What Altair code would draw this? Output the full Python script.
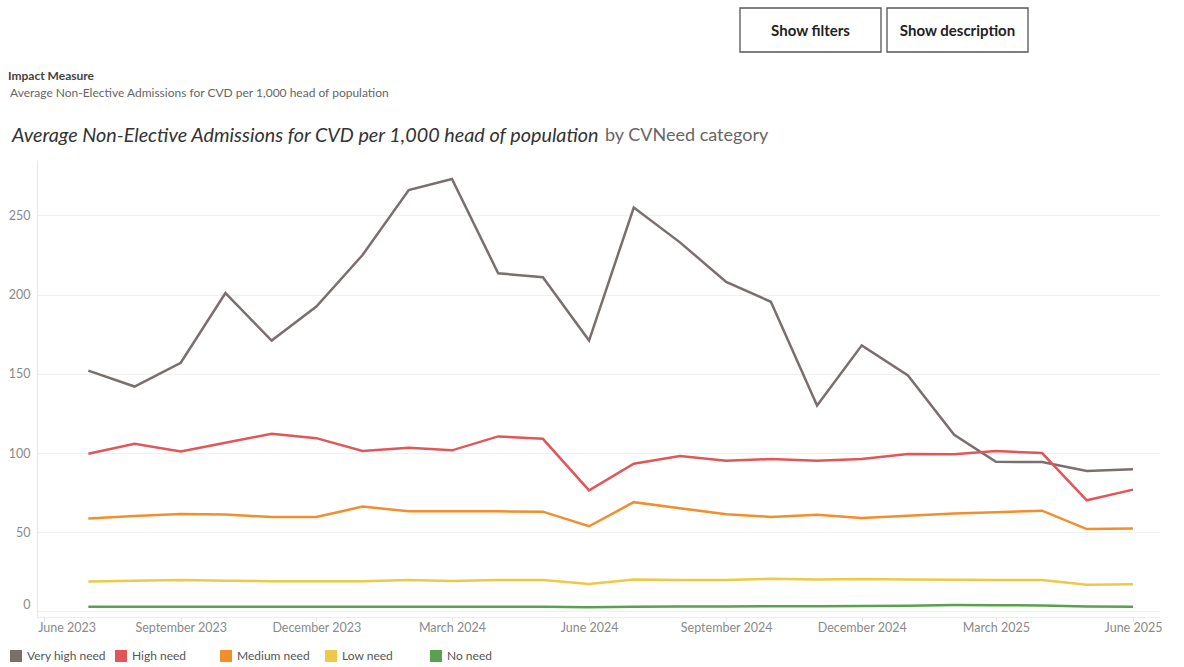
import altair as alt
import pandas as pd

FONT = "Lato"

months = [
    "2023-07-01", "2023-08-01", "2023-09-01", "2023-10-01", "2023-11-01", "2023-12-01",
    "2024-01-01", "2024-02-01", "2024-03-01", "2024-04-01", "2024-05-01", "2024-06-01",
    "2024-07-01", "2024-08-01", "2024-09-01", "2024-10-01", "2024-11-01", "2024-12-01",
    "2025-01-01", "2025-02-01", "2025-03-01", "2025-04-01", "2025-05-01", "2025-06-01",
]
very_high = [152, 142, 157, 201, 171, 192.5, 225, 266, 273, 213.5, 211, 171,
             255, 233, 208, 195.5, 130, 168, 149, 111.5, 94.5, 94.3, 88.7, 89.8]
high = [99.6, 105.9, 101, 106.5, 112.2, 109.4, 101.3, 103.4, 101.7, 110.5, 109, 76.5,
        93.3, 98.1, 95.2, 96.2, 95.2, 96.2, 99.4, 99.2, 101.3, 100, 70.2, 76.9]
medium = [58.7, 60.2, 61.6, 61.2, 59.6, 59.6, 66.2, 63.2, 63.3, 63.2, 63.0, 53.8,
          69.0, 65.2, 61.4, 59.7, 61.0, 59.0, 60.4, 61.8, 62.6, 63.6, 52.0, 52.4]
low = [18.9, 19.4, 19.8, 19.4, 19.1, 19.1, 19.1, 19.8, 19.3, 19.8, 19.8, 17.3,
       20.2, 19.9, 19.9, 20.6, 20.1, 20.5, 20.2, 20.0, 19.8, 19.8, 16.8, 17.1]
no_need = [2.9, 3.0, 3.0, 2.9, 2.9, 2.9, 2.9, 2.9, 3.0, 3.0, 3.0, 2.6,
           3.0, 3.1, 3.2, 3.3, 3.3, 3.5, 3.6, 4.0, 3.9, 3.8, 3.1, 3.0]

categories = ["Very high need", "High need", "Medium need", "Low need", "No need"]
colors = ["#79706e", "#e15759", "#f28e2b", "#edc948", "#59a14f"]
series = [very_high, high, medium, low, no_need]

tick_dates = [(2023, 6), (2023, 9), (2023, 12), (2024, 3), (2024, 6),
              (2024, 9), (2024, 12), (2025, 3), (2025, 6)]
y_ticks = [0, 50, 100, 150, 200, 250]

rows = []
for cat, vals in zip(categories, series):
    for m, v in zip(months, vals):
        rows.append({"month": m, "value": v, "category": cat})
df = pd.DataFrame(rows)

# layout (plot area origin in page pixels)
L, T, W, H = 37, 160, 1123, 457

x_scale = alt.Scale(
    type="utc",
    domain=[alt.DateTime(year=2023, month=5, date=27, hours=13, utc=True),
            alt.DateTime(year=2025, month=6, date=19, hours=3, utc=True)],
)
y_scale = alt.Scale(domain=[-3.5, 285], nice=False, zero=False)

x_axis = alt.Axis(
    title=None,
    values=[alt.DateTime(year=y, month=m, date=1, utc=True) for y, m in tick_dates],
    labelExpr="utcFormat(datum.value, '%B %Y')",
    labelFlush=10, labelFlushOffset=6,
    grid=False, ticks=True, tickSize=4, tickColor="#e6e6e6",
    domain=True, domainColor="#ececec",
    labelFont=FONT, labelFontSize=12.5, labelColor="#8a8a8a", labelPadding=0,
)
y_axis = alt.Axis(
    title=None, values=y_ticks, grid=True, gridColor="#f0f0f0",
    ticks=False, domain=True, domainColor="#e6e6e6",
    labelFont=FONT, labelFontSize=12.5, labelColor="#8a8a8a", labelPadding=7,
    labelBaseline={"condition": {"test": "datum.value === 0", "value": "bottom"}, "value": "middle"},
)

color_scale = alt.Scale(domain=categories, range=colors)

lines = alt.Chart(df).mark_line(strokeWidth=2.5).encode(
    x=alt.X("month:T", scale=x_scale, axis=x_axis),
    y=alt.Y("value:Q", scale=y_scale, axis=y_axis),
    color=alt.Color("category:N", scale=color_scale, legend=None),
)

legend_layer = alt.Chart(df).mark_square(opacity=0).encode(
    x=alt.X("month:T"),
    y=alt.Y("value:Q"),
    color=alt.Color(
        "category:N", scale=color_scale,
        legend=alt.Legend(
            title=None, orient="none", legendX=10 - L, legendY=650 - T,
            direction="horizontal", columns=5, gridAlign="all", columnPadding=9,
            symbolType="square", symbolSize=144, symbolStrokeWidth=0, symbolOpacity=1,
            labelFont=FONT, labelFontSize=12, labelColor="#555555", labelOffset=5,
        ),
    ),
)

ONE = alt.Data(values=[{"a": 1}])


def txt(s, x, y, size, color, weight="normal", style="normal", align="left"):
    return alt.Chart(ONE).mark_text(
        text=s, font=FONT, fontSize=size, color=color, fontWeight=weight,
        fontStyle=style, align=align, baseline="middle",
    ).encode(x=alt.value(x - L), y=alt.value(y - T))


def button(x0, x1, y0, y1, label):
    box = alt.Chart(ONE).mark_rect(fill="white", stroke="#555555", strokeWidth=1.3).encode(
        x=alt.value(x0 - L), x2=alt.value(x1 - L), y=alt.value(y0 - T), y2=alt.value(y1 - T)
    )
    return box + txt(label, (x0 + x1) / 2, (y0 + y1) / 2 + 1, 15, "#222222", weight="bold", align="center")


texts = [
    txt("Impact Measure", 8, 76, 12, "#444444", weight="bold"),
    txt("Average Non-Elective Admissions for CVD per 1,000 head of population", 10, 93, 12, "#666666"),
    txt("Average Non-Elective Admissions for CVD per 1,000 head of population", 12, 136, 19.8, "#333333", style="italic"),
    txt("by CVNeed category", 605, 136, 18, "#666666"),
]

chart = alt.layer(
    lines, legend_layer, *texts,
    button(740, 881, 8, 52, "Show filters"),
    button(887, 1028, 8, 52, "Show description"),
).resolve_legend(color="independent").properties(
    width=W, height=H,
    padding={"left": L, "top": T, "right": 1184 - L - W, "bottom": 667 - T - H},
    autosize=alt.AutoSizeParams(type="none"),
    background="white",
).configure_view(stroke=None)

chart.save("out.html", embed_options={"renderer": "svg", "actions": False})
